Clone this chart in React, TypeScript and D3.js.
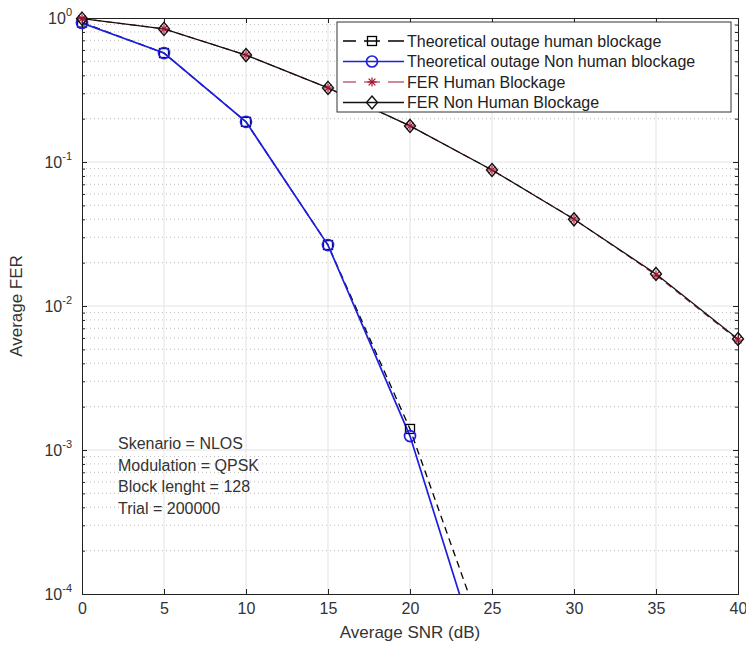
import React, { useEffect, useRef } from "react";
import * as d3 from "d3";

const snrTheory = [0, 5, 10, 15, 20, 25];
// theoretical outage, human blockage
const outageHuman = [0.93, 0.571, 0.19, 0.0265, 0.0014, 0.000035];
// theoretical outage, non human blockage
const outageNonHuman = [0.923, 0.571, 0.19, 0.0265, 0.00125, 0.000019];

const snrSim = [0, 5, 10, 15, 20, 25, 30, 35, 40];
const ferHuman = [0.99, 0.84, 0.553, 0.327, 0.178, 0.088, 0.0402, 0.0164, 0.0058];
const ferNonHuman = [0.99, 0.84, 0.553, 0.327, 0.178, 0.088, 0.04, 0.0167, 0.0059];

const xTicks = [0, 5, 10, 15, 20, 25, 30, 35, 40];
const yDecades = [0, -1, -2, -3, -4];

const legendLabels = [
  "Theoretical outage human blockage",
  "Theoretical outage Non human blockage",
  "FER Human Blockage",
  "FER Non Human Blockage",
];

const notes = ["Skenario = NLOS", "Modulation = QPSK", "Block lenght = 128", "Trial = 200000"];

const W = 746;
const H = 650;
const margin = { top: 18, right: 8, bottom: 56, left: 82 };
const FONT = "'Liberation Sans', Arial, sans-serif";
const TXT = "#333";

function App() {
  const svgRef = useRef<SVGSVGElement>(null);

  useEffect(() => {
    const svg = d3.select(svgRef.current);
    svg.selectAll("*").remove();

    const x = d3.scaleLinear().domain([0, 40]).range([margin.left, W - margin.right]);
    const y = d3.scaleLog().domain([1e-4, 1]).range([H - margin.bottom, margin.top]);
    const [x0, x1] = x.range();
    const [y0, y1] = y.range();

    svg.append("defs").append("clipPath").attr("id", "plotclip")
      .append("rect").attr("x", x0).attr("y", y1).attr("width", x1 - x0).attr("height", y0 - y1);

    svg.append("rect").attr("x", x0).attr("y", y1).attr("width", x1 - x0).attr("height", y0 - y1).attr("fill", "#fff");

    // minor y values
    const minors: number[] = [];
    for (let e = -4; e < 0; e++) for (let m = 2; m <= 9; m++) minors.push(m * Math.pow(10, e));

    // grids
    const grid = svg.append("g");
    grid.selectAll(".ymin").data(minors).join("line")
      .attr("x1", x0).attr("x2", x1).attr("y1", (d) => y(d)).attr("y2", (d) => y(d))
      .attr("stroke", "#bdbdbd").attr("stroke-width", 1).attr("stroke-dasharray", "1,3");
    grid.selectAll(".xg").data(xTicks.slice(1, -1)).join("line")
      .attr("x1", (d) => x(d)).attr("x2", (d) => x(d)).attr("y1", y0).attr("y2", y1)
      .attr("stroke", "#e3e3e3").attr("stroke-width", 1);
    grid.selectAll(".yg").data(yDecades.slice(1, -1)).join("line")
      .attr("x1", x0).attr("x2", x1).attr("y1", (d) => y(Math.pow(10, d))).attr("y2", (d) => y(Math.pow(10, d)))
      .attr("stroke", "#e3e3e3").attr("stroke-width", 1);

    // axes
    const axBottom = svg.append("g").attr("transform", `translate(0,${y0})`)
      .call(d3.axisBottom(x).tickValues(xTicks).tickSize(-5).tickPadding(9).tickFormat(d3.format("d")));
    const axTop = svg.append("g").attr("transform", `translate(0,${y1})`)
      .call(d3.axisTop(x).tickValues(xTicks).tickSize(-5).tickFormat(() => ""));
    const axLeft = svg.append("g").attr("transform", `translate(${x0},0)`)
      .call(d3.axisLeft(y).tickValues(yDecades.map((d) => Math.pow(10, d))).tickSize(-5).tickFormat(() => ""));
    const axRight = svg.append("g").attr("transform", `translate(${x1},0)`)
      .call(d3.axisRight(y).tickValues(yDecades.map((d) => Math.pow(10, d))).tickSize(-5).tickFormat(() => ""));
    const axLeftMinor = svg.append("g").attr("transform", `translate(${x0},0)`)
      .call(d3.axisLeft(y).tickValues(minors).tickSize(-3).tickFormat(() => ""));
    const axRightMinor = svg.append("g").attr("transform", `translate(${x1},0)`)
      .call(d3.axisRight(y).tickValues(minors).tickSize(-3).tickFormat(() => ""));
    [axBottom, axTop, axLeft, axRight, axLeftMinor, axRightMinor].forEach((g) => {
      g.selectAll("path").attr("stroke", "#222").attr("stroke-width", 1);
      g.selectAll("line").attr("stroke", "#222");
    });
    axLeftMinor.select("path").remove();
    axRightMinor.select("path").remove();
    axBottom.selectAll("text").attr("font-family", FONT).attr("font-size", 16).attr("fill", TXT);

    // y tick labels 10^k
    const ylab = svg.append("g").attr("font-family", FONT).attr("fill", TXT);
    yDecades.forEach((d) => {
      const t = ylab.append("text").attr("x", x0 - 10).attr("y", y(Math.pow(10, d)) + 6)
        .attr("text-anchor", "end").attr("font-size", 16);
      t.append("tspan").text("10");
      t.append("tspan").attr("dy", -8).attr("font-size", 11).text(String(d));
    });

    // axis labels
    svg.append("text").attr("x", (x0 + x1) / 2).attr("y", H - 12).attr("text-anchor", "middle")
      .attr("font-family", FONT).attr("font-size", 17).attr("fill", TXT).text("Average SNR (dB)");
    svg.append("text").attr("transform", `translate(22,${(y0 + y1) / 2}) rotate(-90)`).attr("text-anchor", "middle")
      .attr("font-family", FONT).attr("font-size", 17).attr("fill", TXT).text("Average FER");

    const plot = svg.append("g").attr("clip-path", "url(#plotclip)");
    const line = d3.line<[number, number]>().x((d) => x(d[0])).y((d) => y(d[1]));

    const drawMarker = (g: any, kind: string, cx: number, cy: number, color: string) => {
      if (kind === "square") {
        g.append("rect").attr("x", cx - 4.5).attr("y", cy - 4.5).attr("width", 9).attr("height", 9)
          .attr("fill", "none").attr("stroke", color).attr("stroke-width", 1.3);
      } else if (kind === "circle") {
        g.append("circle").attr("cx", cx).attr("cy", cy).attr("r", 5.5)
          .attr("fill", "none").attr("stroke", color).attr("stroke-width", 1.7);
      } else if (kind === "star") {
        const r = 4.5;
        [[-r, 0, r, 0], [0, -r, 0, r], [-r * 0.75, -r * 0.75, r * 0.75, r * 0.75], [-r * 0.75, r * 0.75, r * 0.75, -r * 0.75]].forEach((s) => {
          g.append("line").attr("x1", cx + s[0]).attr("y1", cy + s[1]).attr("x2", cx + s[2]).attr("y2", cy + s[3])
            .attr("stroke", color).attr("stroke-width", 1.2);
        });
      } else if (kind === "diamond") {
        g.append("path").attr("d", `M${cx},${cy - 6.5}L${cx + 5.5},${cy}L${cx},${cy + 6.5}L${cx - 5.5},${cy}Z`)
          .attr("fill", "none").attr("stroke", color).attr("stroke-width", 1.4);
      }
    };

    const series = [
      { xs: snrTheory, ys: outageHuman, color: "#000", dash: "7,5", width: 1.3, marker: "square" },
      { xs: snrTheory, ys: outageNonHuman, color: "#1f1fe0", dash: null, width: 1.7, marker: "circle" },
      { xs: snrSim, ys: ferHuman, color: "#a2142f", dash: "7,5", width: 1.2, marker: "star" },
      { xs: snrSim, ys: ferNonHuman, color: "#111", dash: null, width: 1.3, marker: "diamond" },
    ];

    series.forEach((s) => {
      const pts = s.xs.map((v, i) => [v, s.ys[i]] as [number, number]);
      plot.append("path").attr("d", line(pts)).attr("fill", "none")
        .attr("stroke", s.color).attr("stroke-width", s.width).attr("stroke-dasharray", s.dash);
      const mk = svg.append("g");
      pts.forEach((p) => {
        if (p[1] < 1e-4) return;
        drawMarker(mk, s.marker, x(p[0]), y(p[1]), s.color);
      });
    });

    // annotation
    const note = svg.append("g").attr("font-family", FONT).attr("font-size", 16).attr("fill", TXT);
    notes.forEach((n, i) => {
      note.append("text").attr("x", 118).attr("y", 449 + i * 21.5).text(n);
    });

    // legend
    const lg = svg.append("g");
    lg.append("rect").attr("x", 337).attr("y", 22).attr("width", 394).attr("height", 90)
      .attr("fill", "#fff").attr("stroke", "#333").attr("stroke-width", 1);
    series.forEach((s, i) => {
      const cy = 41 + i * 20.5;
      lg.append("line").attr("x1", 343).attr("x2", 404).attr("y1", cy).attr("y2", cy)
        .attr("stroke", s.color).attr("stroke-width", s.width);
      if (s.dash) {
        lg.append("rect").attr("x", 356).attr("y", cy - 6).attr("width", 8).attr("height", 12).attr("fill", "#fff");
        lg.append("rect").attr("x", 380).attr("y", cy - 6).attr("width", 8).attr("height", 12).attr("fill", "#fff");
      }
      drawMarker(lg, s.marker, 372, cy, s.color);
      lg.append("text").attr("x", 407).attr("y", cy + 5.5).attr("font-family", FONT).attr("font-size", 16)
        .attr("fill", "#222").text(legendLabels[i]);
    });
  }, []);

  return (
    <svg ref={svgRef} width={W} height={H} style={{ position: "absolute", left: 0, top: 0, background: "#fff" }} />
  );
}

export default App;
